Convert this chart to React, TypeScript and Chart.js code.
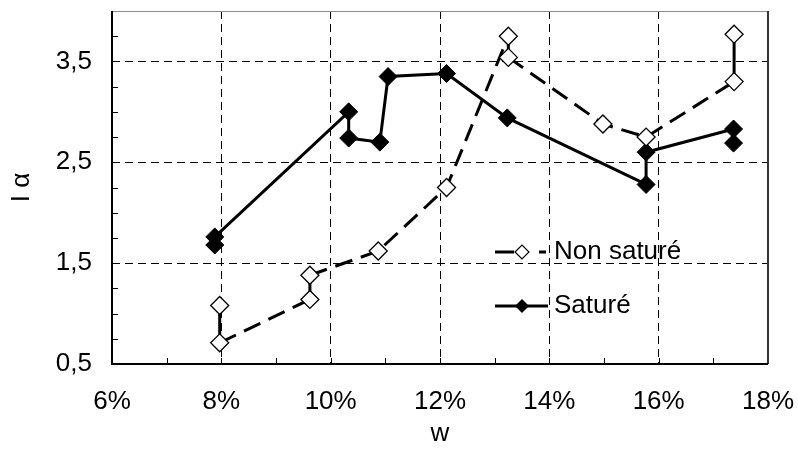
import React, { useEffect, useRef } from "react";
import { Chart, registerables } from "chart.js";

Chart.register(...registerables);

// ---- data ----
const satLabel = "Saturé";
const satX = [7.88, 7.88, 10.33, 10.33, 10.9, 11.05, 12.12, 13.23, 15.77, 15.77, 17.37, 17.37];
const satY = [1.68, 1.76, 3.0, 2.74, 2.7, 3.35, 3.38, 2.94, 2.28, 2.6, 2.83, 2.69];

const nonLabel = "Non saturé";
const nonX = [7.97, 7.97, 9.62, 9.62, 10.87, 12.12, 13.25, 13.25, 14.98, 15.77, 17.38, 17.38];
const nonY = [1.08, 0.71, 1.14, 1.38, 1.62, 2.25, 3.75, 3.54, 2.88, 2.75, 3.3, 3.77];

const xTicks = [6, 8, 10, 12, 14, 16, 18];
const yTicks = [0.5, 1.5, 2.5, 3.5];
const xMinorStep = 1;
const yMinorStep = 0.25;
const xTitle = "w";
const yTitle = "I α";

const FONT = "'Liberation Sans', Arial, sans-serif";
const FS = 26;

const zeroPad = (s: any) => {
  s.paddingTop = 0;
  s.paddingBottom = 0;
  s.paddingLeft = 0;
  s.paddingRight = 0;
};

const framePlugin = {
  id: "frameAndMinor",
  beforeDatasetsDraw(chart: any) {
    const { ctx, chartArea: a, scales } = chart;
    const xs = scales.x;
    const ys = scales.y;
    ctx.save();
    // minor ticks inside
    ctx.strokeStyle = "#000";
    ctx.lineWidth = 1;
    ctx.beginPath();
    for (let v = xs.min; v <= xs.max + 1e-9; v += xMinorStep) {
      const px = Math.round(xs.getPixelForValue(v)) + 0.5;
      ctx.moveTo(px, a.bottom);
      ctx.lineTo(px, a.bottom - 6);
    }
    for (let v = ys.min; v <= ys.max + 1e-9; v += yMinorStep) {
      const py = Math.round(ys.getPixelForValue(v)) + 0.5;
      ctx.moveTo(a.left, py);
      ctx.lineTo(a.left + 6, py);
    }
    ctx.stroke();
    // top + right
    ctx.strokeStyle = "#8a8a8a";
    ctx.lineWidth = 1;
    ctx.beginPath();
    ctx.moveTo(a.left, a.top + 0.5);
    ctx.lineTo(a.right, a.top + 0.5);
    ctx.stroke();
    ctx.strokeStyle = "#333";
    ctx.lineWidth = 2;
    ctx.beginPath();
    ctx.moveTo(a.right, a.top);
    ctx.lineTo(a.right, a.bottom);
    ctx.stroke();
    // left + bottom
    ctx.strokeStyle = "#000";
    ctx.lineWidth = 2;
    ctx.beginPath();
    ctx.moveTo(a.left, a.top);
    ctx.lineTo(a.left, a.bottom);
    ctx.lineTo(a.right, a.bottom);
    ctx.stroke();
    ctx.restore();
  },
  afterDraw(chart: any) {
    const { ctx } = chart;
    ctx.save();
    const x0 = 495;
    const x1 = 548;
    const r1 = 252;
    const r2 = 306;
    const dm = 7;
    const cx = 522;
    // legend row 1: Non saturé
    ctx.strokeStyle = "#000";
    ctx.lineWidth = 3;
    ctx.beginPath();
    ctx.moveTo(x0, r1);
    ctx.lineTo(514, r1);
    ctx.moveTo(539, r1);
    ctx.lineTo(546, r1);
    ctx.stroke();
    ctx.beginPath();
    ctx.moveTo(cx - dm, r1);
    ctx.lineTo(cx, r1 - dm);
    ctx.lineTo(cx + dm, r1);
    ctx.lineTo(cx, r1 + dm);
    ctx.closePath();
    ctx.fillStyle = "#fff";
    ctx.fill();
    ctx.lineWidth = 1.2;
    ctx.stroke();
    // legend row 2: Saturé
    ctx.lineWidth = 3;
    ctx.beginPath();
    ctx.moveTo(x0, r2);
    ctx.lineTo(x1, r2);
    ctx.stroke();
    ctx.beginPath();
    ctx.moveTo(cx - dm, r2);
    ctx.lineTo(cx, r2 - dm);
    ctx.lineTo(cx + dm, r2);
    ctx.lineTo(cx, r2 + dm);
    ctx.closePath();
    ctx.fillStyle = "#000";
    ctx.fill();
    // texts
    ctx.fillStyle = "#000";
    ctx.font = `${FS}px ${FONT}`;
    ctx.textBaseline = "middle";
    ctx.textAlign = "left";
    ctx.fillText(nonLabel, 554, r1);
    ctx.fillText(satLabel, 554, r2);
    ctx.restore();
  },
};

export default function App() {
  const ref = useRef<HTMLCanvasElement | null>(null);
  useEffect(() => {
    if (!ref.current) return;
    const dash = [18, 9];
    const chart = new Chart(ref.current, {
      type: "line",
      data: {
        datasets: [
          {
            label: nonLabel,
            data: nonX.map((x, i) => ({ x, y: nonY[i] })),
            borderColor: "#000",
            borderWidth: 3,
            borderDash: dash,
            segment: {
              borderDash: (c: any) => (Math.abs(c.p0.parsed.x - c.p1.parsed.x) < 0.01 ? [] : dash),
            },
            pointStyle: "rectRot",
            pointRadius: 9,
            pointBackgroundColor: "#fff",
            pointBorderColor: "#000",
            pointBorderWidth: 1.3,
            tension: 0,
          },
          {
            label: satLabel,
            data: satX.map((x, i) => ({ x, y: satY[i] })),
            borderColor: "#000",
            borderWidth: 3,
            pointStyle: "rectRot",
            pointRadius: 9,
            pointBackgroundColor: "#000",
            pointBorderColor: "#000",
            pointBorderWidth: 1,
            tension: 0,
          },
        ],
      },
      options: {
        animation: false,
        responsive: false,
        devicePixelRatio: 1,
        layout: { padding: { top: 11, right: 30, left: 0, bottom: 0 } },
        plugins: { legend: { display: false }, tooltip: { enabled: false } },
        scales: {
          x: {
            type: "linear",
            min: 6,
            max: 18,
            afterBuildTicks: (s: any) => {
              s.ticks = xTicks.map((v) => ({ value: v }));
            },
            afterFit: (s: any) => {
              s.height = 85;
              zeroPad(s);
            },
            ticks: {
              callback: (v: any) => `${v}%`,
              font: { family: FONT, size: FS },
              color: "#000",
              padding: 22,
              maxRotation: 0,
            },
            grid: { color: "#000", lineWidth: 1, drawTicks: false, borderDash: [8, 5] } as any,
            border: { display: false, dash: [8, 5] },
            title: {
              display: true,
              text: xTitle,
              font: { family: FONT, size: FS },
              color: "#000",
              padding: { top: 0, bottom: 0 },
            },
          },
          y: {
            type: "linear",
            min: 0.5,
            max: 4,
            afterBuildTicks: (s: any) => {
              s.ticks = yTicks.map((v) => ({ value: v }));
            },
            afterFit: (s: any) => {
              s.width = 112;
              zeroPad(s);
            },
            ticks: {
              callback: (v: any) => String(v).replace(".", ","),
              font: { family: FONT, size: FS },
              color: "#000",
              padding: 20,
            },
            grid: { color: "#000", lineWidth: 1, drawTicks: false, borderDash: [8, 5] } as any,
            border: { display: false, dash: [8, 5] },
            title: {
              display: true,
              text: yTitle,
              font: { family: FONT, size: FS },
              color: "#000",
              padding: { top: 6, bottom: 0 },
            },
          },
        },
      },
      plugins: [framePlugin],
    });
    return () => chart.destroy();
  }, []);
  return (
    <div style={{ position: "absolute", left: 0, top: 0, width: 798, height: 449, background: "#fff" }}>
      <canvas ref={ref} width={798} height={449} />
    </div>
  );
}
